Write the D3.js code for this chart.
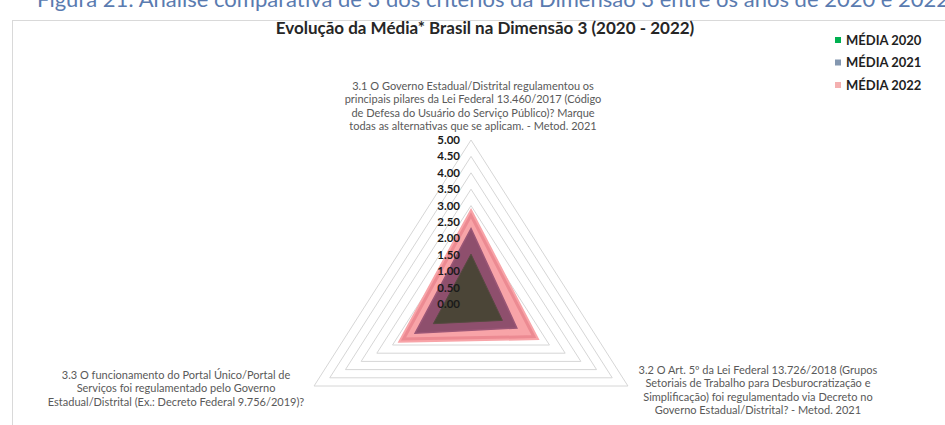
<!DOCTYPE html>
<html>
<head>
<meta charset="utf-8">
<script src="https://cdn.jsdelivr.net/npm/d3@7/dist/d3.min.js"></script>
<style>
  html, body { margin: 0; padding: 0; background: #ffffff; }
  svg { display: block; font-family: Lato, "Open Sans", sans-serif; }
</style>
</head>
<body>
<svg id="chart" width="945" height="425"></svg>
<script>
// Criteria of Dimension 3 (one radar axis each)
const categories = [
  ["3.1 O Governo Estadual/Distrital regulamentou os",
   "principais pilares da Lei Federal 13.460/2017 (Código",
   "de Defesa do Usuário do Serviço Público)? Marque",
   "todas as alternativas que se aplicam.  - Metod. 2021"],
  ["3.2 O Art. 5º da Lei Federal 13.726/2018 (Grupos",
   "Setoriais de Trabalho para Desburocratização e",
   "Simplificação) foi regulamentado via Decreto no",
   "Governo Estadual/Distrital?  - Metod. 2021"],
  ["3.3 O funcionamento do Portal Único/Portal de",
   "Serviços foi regulamentado pelo Governo",
   "Estadual/Distrital (Ex.: Decreto Federal 9.756/2019)?"]
];

// Yearly averages, in the same order as the criteria
const seriesNames = ["MÉDIA 2020", "MÉDIA 2021", "MÉDIA 2022"];
const media2020 = [1.52, 1.00, 1.20];
const media2021 = [2.30, 1.46, 1.78];
const media2022 = [2.80, 2.08, 2.23];

// Radial axis ticks
const tickValues = [0, 0.5, 1, 1.5, 2, 2.5, 3, 3.5, 4, 4.5, 5];

(function () {
const svg = d3.select("#chart");
const W = 945, H = 425;

// caption of the figure above the chart frame
svg.append("text")
  .attr("x", 37).attr("y", 7)
  .attr("font-size", 22)
  .attr("fill", "#5a7bb0")
  .text("Figura 21: Análise comparativa de 3 dos critérios da Dimensão 3 entre os anos de 2020 e 2022");

// chart frame
svg.append("rect")
  .attr("x", 12.5).attr("y", 20.5)
  .attr("width", W).attr("height", H)
  .attr("fill", "#ffffff").attr("stroke", "#d9d9d9");

// title
svg.append("text")
  .attr("x", 485).attr("y", 34)
  .attr("text-anchor", "middle")
  .attr("font-size", 17).attr("font-weight", 700)
  .attr("fill", "#262626")
  .text("Evolução da Média* Brasil na Dimensão 3 (2020 - 2022)");

// radar geometry
const cx = 471, cy = 304, stretchX = 1.105;
const r = d3.scaleLinear().domain([0, 5]).range([0, 164]);
const angle = d3.scaleLinear().domain([0, categories.length]).range([0, 2 * Math.PI]);
const pt = (v, i) => [cx + stretchX * r(v) * Math.sin(angle(i)), cy - r(v) * Math.cos(angle(i))];
const line = d3.line().curve(d3.curveLinearClosed);
const poly = vals => line(vals.map((v, i) => pt(v, i)));

// gridline rings
svg.append("g").selectAll("path")
  .data(tickValues.filter(t => t > 0))
  .join("path")
  .attr("d", t => poly(categories.map(() => t)))
  .attr("fill", "none")
  .attr("stroke", "#d6d6d6")
  .attr("stroke-width", 1);

// series areas, largest first
const areas = svg.append("g");
const defs = svg.append("defs");

// 2022: light pink area with a deeper inner rim
defs.append("clipPath").attr("id", "clip2022")
  .append("path").attr("d", poly(media2022));
areas.append("path")
  .attr("d", poly(media2022))
  .attr("fill", "#f8a4a8")
  .attr("stroke", "#f8a4a8")
  .attr("stroke-width", 4)
  .attr("stroke-linejoin", "miter");
areas.append("path")
  .attr("d", poly(media2022))
  .attr("fill", "none")
  .attr("stroke", "#ec8a92")
  .attr("stroke-width", 6)
  .attr("clip-path", "url(#clip2022)");

// 2021 over 2022
areas.append("path")
  .attr("d", poly(media2021))
  .attr("fill", "#8e4f6d")
  .attr("stroke", "#9a5676")
  .attr("stroke-width", 1.5);

// 2020 over both
areas.append("path")
  .attr("d", poly(media2020))
  .attr("fill", "#4b4537")
  .attr("stroke", "#564a40")
  .attr("stroke-width", 1);

// radial tick labels
svg.append("g").selectAll("text")
  .data(tickValues)
  .join("text")
  .attr("x", cx - 11)
  .attr("y", t => cy - r(t))
  .attr("dy", "0.35em")
  .attr("text-anchor", "end")
  .attr("font-size", 11.5).attr("font-weight", 700)
  .attr("fill", "#1a1a1a")
  .text(t => d3.format(".2f")(t));

// criterion labels
const labelSize = 11, lineH = 13.5;
const vTop = pt(5, 0), vRight = pt(5, 1), vLeft = pt(5, 2);
const labelAnchors = [
  { x: vTop[0] + 2, yLast: vTop[1] - 13.5 },
  { x: vRight[0] + 130, yFirst: vRight[1] - 16 },
  { x: vLeft[0] - 138, yFirst: vLeft[1] - 11 }
];
categories.forEach((lines, i) => {
  const a = labelAnchors[i];
  const y0 = a.yFirst !== undefined ? a.yFirst : a.yLast - (lines.length - 1) * lineH;
  const t = svg.append("text")
    .attr("text-anchor", "middle")
    .attr("font-size", labelSize)
    .attr("fill", "#595959");
  lines.forEach((s, k) => {
    t.append("tspan").attr("x", a.x).attr("y", y0 + k * lineH).attr("dy", "0.35em").text(s);
  });
});

// legend
const legendColors = ["#00b050", "#8497b0", "#f4b0b0"];
const lg = svg.append("g").selectAll("g")
  .data(seriesNames)
  .join("g")
  .attr("transform", (d, i) => `translate(835, ${40 + i * 22.5})`);
lg.append("rect")
  .attr("x", 0).attr("y", -3).attr("width", 6).attr("height", 6)
  .attr("fill", (d, i) => legendColors[i]);
lg.append("text")
  .attr("x", 11).attr("y", 0).attr("dy", "0.36em")
  .attr("font-size", 13).attr("font-weight", 700)
  .attr("fill", "#1f1f1f")
  .text(d => d);
})();
</script>
</body>
</html>
